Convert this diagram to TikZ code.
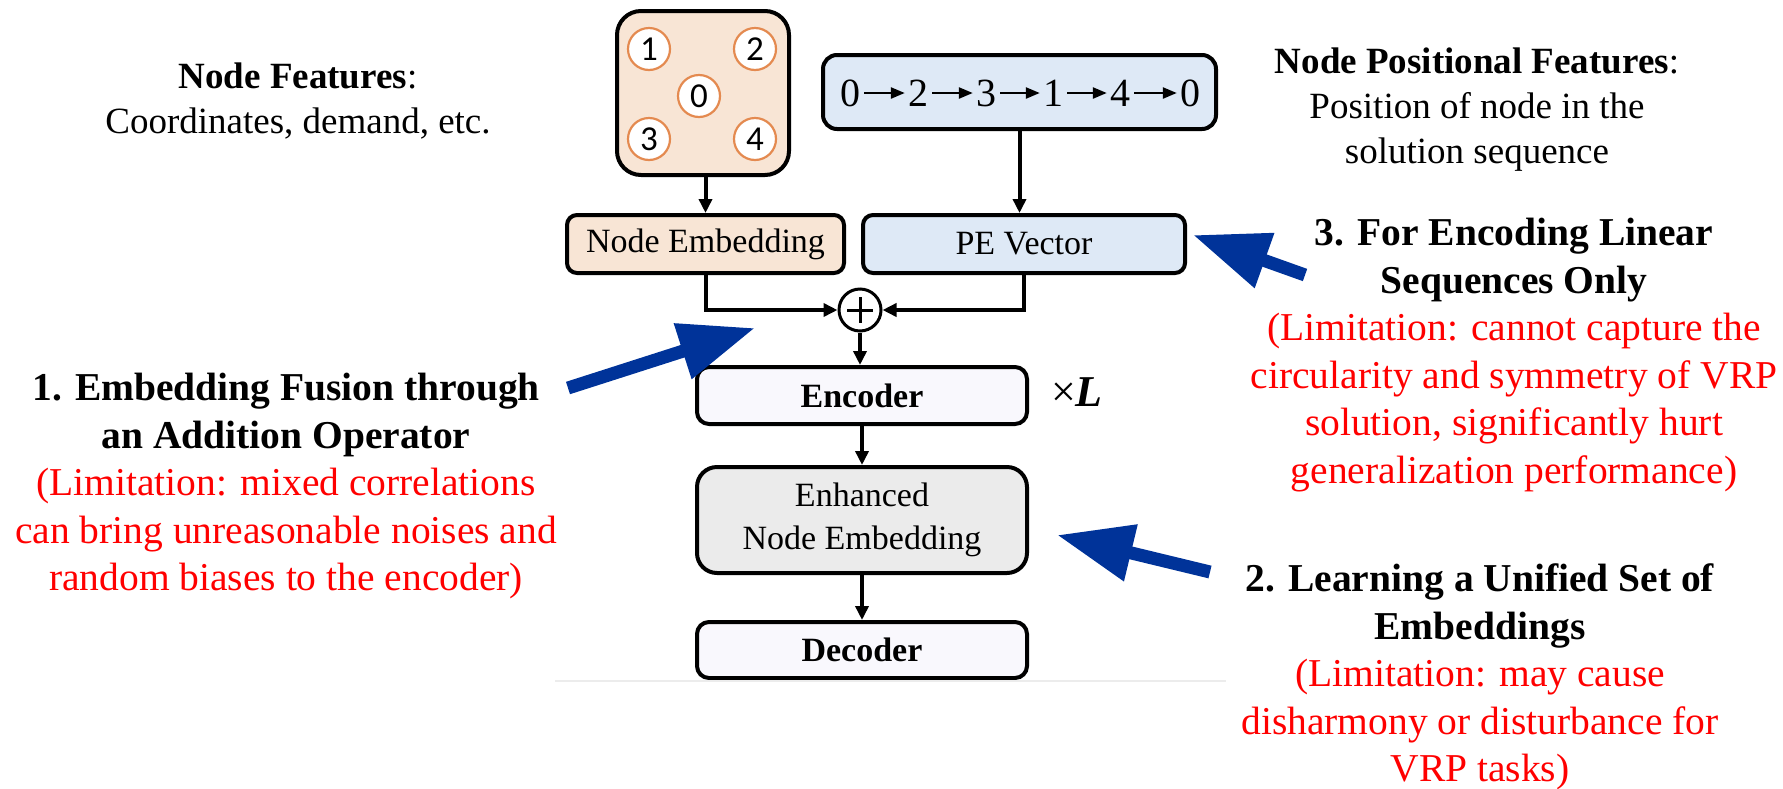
\documentclass[tikz,border=0pt]{standalone}
\usepackage{fontspec}
\setmainfont{Liberation Serif}
\newfontfamily\digitfont{Carlito}
\usetikzlibrary{arrows.meta,calc}

\definecolor{peach}{RGB}{248,229,213}
\definecolor{paleblue}{RGB}{222,233,246}
\definecolor{palewhite}{RGB}{249,248,253}
\definecolor{palegray}{RGB}{235,235,235}
\definecolor{nodeorange}{RGB}{228,138,80}
\definecolor{callblue}{RGB}{0,51,153}
\definecolor{limred}{RGB}{255,0,0}

\newcommand{\boxfont}{\fontsize{34}{43}\selectfont}

\tikzset{
  box/.style={draw=black, line width=4pt, rounded corners=#1, inner sep=0pt,
    align=center, font=\boxfont},
  box/.default=10pt,
  flow/.style={line width=4pt, -{Triangle[length=14pt,width=13pt]}},
  callout/.style={draw=callblue, line width=13pt, -{Triangle[length=76pt,width=55pt]}},
  seqdigit/.style={inner sep=0pt, font=\fontsize{40}{40}\selectfont},
  seqarrow/.style={line width=2.4pt, -{Triangle[length=14pt,width=11pt]},
    shorten <=4pt, shorten >=3pt},
  city/.style={circle, draw=nodeorange, line width=2.2pt, fill=white,
    minimum size=42pt, inner sep=0pt, font=\digitfont\fontsize{35}{35}\selectfont},
  note/.style={align=center, font=\fontsize{39.5}{47.5}\selectfont},
  headnote/.style={align=center, font=\fontsize{37}{45}\selectfont},
}

\begin{document}
\begin{tikzpicture}[x=1pt,y=-1pt]
\useasboundingbox (0,0) rectangle (1783,788);

% ---- inputs: node features and the solution sequence ----
\node[box=24pt, fill=peach, minimum width=172pt, minimum height=164pt] (feat) at (703,93) {};
\node[city] (c1) at (649,49) {1};
\node[city] (c2) at (755,49) {2};
\node[city] (c0) at (699,96) {0};
\node[city] (c3) at (649,139) {3};
\node[city] (c4) at (755,139) {4};

\node[box=14pt, fill=paleblue, minimum width=393pt, minimum height=74pt] (seq) at (1019.5,92) {};
\node[seqdigit] (s0) at (850,93) {0};
\node[seqdigit] (s1) at (918,93) {2};
\node[seqdigit] (s2) at (986,93) {3};
\node[seqdigit] (s3) at (1053,93) {1};
\node[seqdigit] (s4) at (1120,93) {4};
\node[seqdigit] (s5) at (1190,93) {0};
\foreach \a/\b in {s0/s1,s1/s2,s2/s3,s3/s4,s4/s5}
  \draw[seqarrow] (\a.east) -- (\b.west);

% ---- embeddings and fusion ----
\node[box=10pt, fill=peach, minimum width=277pt, minimum height=58pt] (nemb) at (705.5,244) {Node Embedding};
\node[box=10pt, fill=paleblue, minimum width=322pt, minimum height=58pt] (pe) at (1024,244) {PE Vector};

\node[circle, draw, line width=3pt, fill=white, minimum size=42pt, inner sep=0pt] (plus) at (860,310) {};
\draw[line width=3pt] ($(plus.center)+(-13,0)$) -- ($(plus.center)+(13,0)$);
\draw[line width=3pt] ($(plus.center)+(0,-13)$) -- ($(plus.center)+(0,13)$);

% ---- encoder / decoder stack ----
\node[box=12pt, fill=palewhite, minimum width=330pt, minimum height=57pt, font=\boxfont\bfseries] (enc) at (862,395.5) {Encoder};
\node[box=20pt, fill=palegray, minimum width=330pt, minimum height=106pt] (enh) at (862,520) {Enhanced\\Node Embedding};
\node[box=12pt, fill=palewhite, minimum width=330pt, minimum height=56pt, font=\boxfont\bfseries] (dec) at (862,650) {Decoder};
\node[font=\fontsize{44}{44}\selectfont, inner sep=0pt] (rep) at (1077,392) {×\textbf{\textit{L}}};

\draw[gray!15, line width=2pt] (555,681) -- (1226,681);

% ---- data flow ----
\draw[flow] (feat.south -| nemb.north) -- (nemb.north);
\draw[flow] (seq.south) -- (seq.south |- pe.north);
\draw[flow] (nemb.south) |- (plus.west);
\draw[flow] (pe.south) |- (plus.east);
\draw[flow] (plus.south) -- (plus.south |- enc.north);
\draw[flow] (enc.south) -- (enh.north);
\draw[flow] (enh.south) -- (dec.north);

% ---- feature descriptions ----
\node[headnote] (featlbl) at (298,101) {\textbf{Node Features}:\\Coordinates, demand, etc.};
\node[headnote] (poslbl) at (1477,110) {\textbf{Node Positional Features}:\\Position of node in the\\solution sequence};

% ---- limitations ----
\node[note] (lim1) at (286,486) {\textbf{1. Embedding Fusion through}\\\textbf{an Addition Operator}\\
  \textcolor{limred}{(Limitation: mixed correlations}\\
  \textcolor{limred}{can bring unreasonable noises and}\\
  \textcolor{limred}{random biases to the encoder)}};
\node[note] (lim3) at (1514,355) {\textbf{3. For Encoding Linear}\\\textbf{Sequences Only}\\
  \textcolor{limred}{(Limitation: cannot capture the}\\
  \textcolor{limred}{circularity and symmetry of VRP}\\
  \textcolor{limred}{solution, significantly hurt}\\
  \textcolor{limred}{generalization performance)}};
\node[note] (lim2) at (1480,677) {\textbf{2. Learning a Unified Set of}\\\textbf{Embeddings}\\
  \textcolor{limred}{(Limitation: may cause}\\
  \textcolor{limred}{disharmony or disturbance for}\\
  \textcolor{limred}{VRP tasks)}};

% ---- pointers from the limitations ----
\coordinate (tail1) at (568,388);  \coordinate (tip1) at (755,328);
\coordinate (tail3) at (1305,275); \coordinate (tip3) at (1193,235);
\coordinate (tail2) at (1210,572); \coordinate (tip2) at (1057,535);
\draw[callout] (tail1) -- (tip1);
\draw[callout] (tail3) -- (tip3);
\draw[callout] (tail2) -- (tip2);
\end{tikzpicture}
\end{document}
